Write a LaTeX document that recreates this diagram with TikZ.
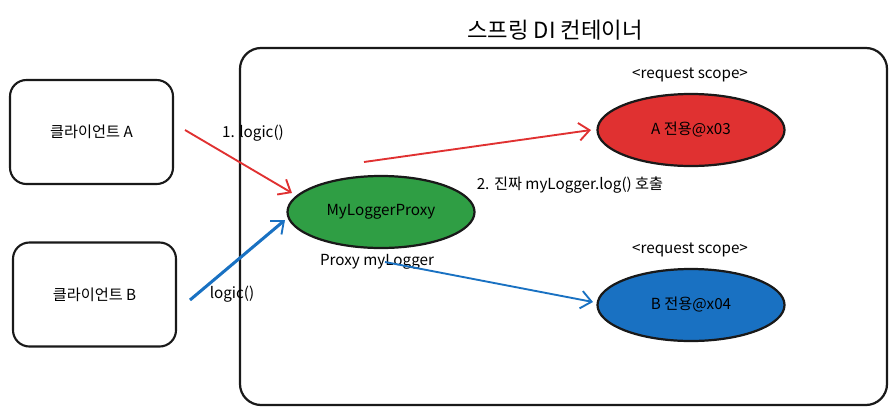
\documentclass[tikz,border=0pt]{standalone}
\usepackage{fontspec}
\setmainfont{Noto Sans CJK KR}
\usetikzlibrary{shapes.geometric,arrows.meta}

\definecolor{beanred}{HTML}{E03131}
\definecolor{proxygreen}{HTML}{2F9E44}
\definecolor{beanblue}{HTML}{1971C2}

\tikzset{
  client/.style={draw=black!90,line width=1.8pt,rounded corners=14pt,minimum width=4.89cm,minimum height=3.12cm},
  bean/.style={ellipse,draw=black!90,line width=1.9pt,minimum width=5.61cm,minimum height=2.16cm,inner sep=0pt},
  label/.style={font=\fontsize{13}{15}\selectfont},
  call/.style={line width=1.6pt,-{Straight Barb[length=9pt,width=15pt,line width=1.6pt]}}
}

\begin{document}
\begin{tikzpicture}[x=0.03cm,y=-0.03cm,label]
\useasboundingbox (0,0) rectangle (896,414);

% draw container
\node (container) [draw=black!90,line width=1.9pt,rounded corners=18pt,minimum width=19.41cm,minimum height=10.71cm] at (563.5,226.5) {};
\node (title) [font=\fontsize{19}{21}\selectfont] at (555,30) {스프링 DI 컨테이너};

% draw clients
\node (clientA) [client] at (91.5,132) {클라이언트 A};
\node (clientB) [client] at (94.5,294.5) {클라이언트 B};

% draw beans
\node (proxy) [bean,fill=proxygreen] at (381,212) {MyLoggerProxy};
\node (proxyname) at (377,262) {Proxy myLogger};
\node (beanA) [bean,fill=beanred] at (691,130) {A 전용@x03};
\node (scopeA) at (690,75) {<request scope>};
\node (beanB) [bean,fill=beanblue] at (691,305) {B 전용@x04};
\node (scopeB) at (690,250) {<request scope>};

% draw calls
\coordinate (fromA) at (185,130);
\coordinate (toproxyA) at (292,193);
\coordinate (fromB) at (190,300);
\coordinate (toproxyB) at (285,220);
\coordinate (toA) at (364,162);
\coordinate (toB) at (385,262);
\coordinate (endA) at (591,130);
\coordinate (endB) at (593,302);

\draw[call,beanred] (fromA) -- (toproxyA);
\draw[call,beanblue,line width=2.6pt] (fromB) -- (toproxyB);
\draw[call,beanred] (toA) -- (endA);
\draw[call,beanblue] (toB) -- (endB);

\node (logicA) at (253,133) {1. logic()};
\node (logicB) at (232,294) {logic()};
\node (realcall) at (570,185) {2. 진짜 myLogger.log() 호출};

\end{tikzpicture}
\end{document}
